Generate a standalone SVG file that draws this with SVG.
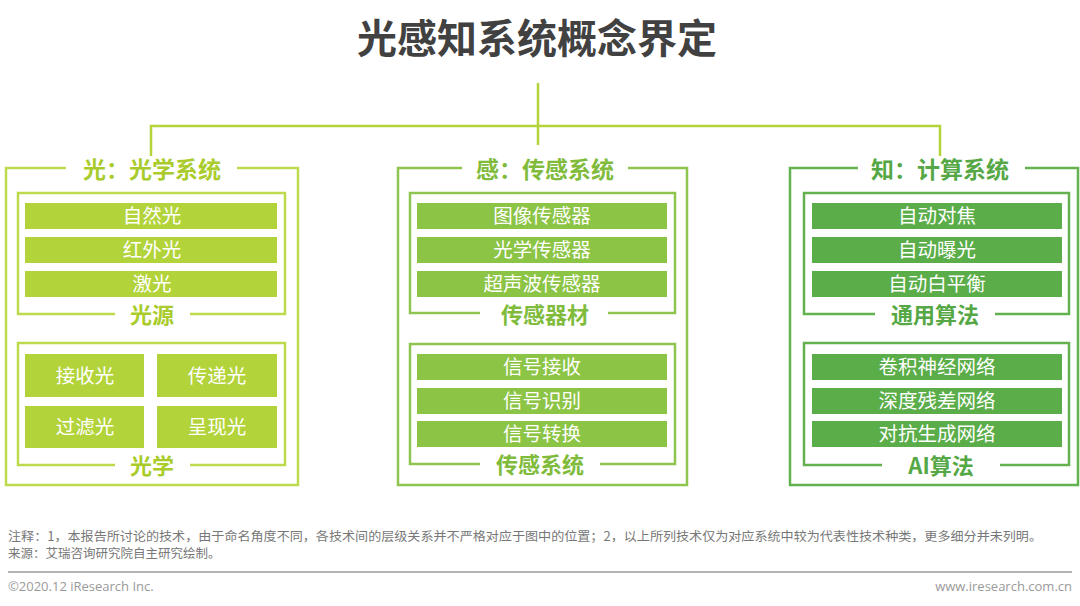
<svg xmlns="http://www.w3.org/2000/svg" width="1080" height="606" viewBox="0 0 1080 606">
<style>
text{font-family:"Noto Sans CJK SC","Noto Sans",sans-serif;text-anchor:middle}
.title{font-size:40px;font-weight:700;fill:#414141}
.hd{font-size:23px;font-weight:700}
.sub{font-size:22px;font-weight:700}
.bt{font-size:19.5px;fill:#ffffff}
.fr{fill:none;stroke-width:2.5}
.c1 .fr{stroke:#bcda4c}.c1 .bar{fill:#b2d33a}.c1 .hd,.c1 .sub{fill:#a9cc2c}
.c2 .fr{stroke:#8ec54e}.c2 .bar{fill:#8cc445}.c2 .hd,.c2 .sub{fill:#80bb3c}
.c3 .fr{stroke:#63b14f}.c3 .bar{fill:#5aad48}.c3 .hd,.c3 .sub{fill:#55a845}
.conn{fill:none;stroke:#b5d43a;stroke-width:2.5}
.note{font-size:12.5px;fill:#777;text-anchor:start}
.foot{font-family:"Open Sans","Liberation Sans",sans-serif;font-size:13px;fill:#9a9a9a}
</style>
<rect width="1080" height="606" fill="#ffffff"/>
<text class="title" x="537" y="53">光感知系统概念界定</text>
<g id="connectors">
<path class="conn" d="M538,83 V145"/>
<path class="conn" d="M151,156 V126 H940 V156"/>
</g>
<g id="col-light" class="c1">
<path class="fr" d="M66,168 H6 V485 H298 V168 H237"/>
<text class="hd" x="152" y="178">光：光学系统</text>
<g id="light-source">
<path class="fr" d="M115,314 H18 V193 H285 V314 H190"/>
<rect class="bar" x="25" y="203" width="252" height="26"/><text class="bt" x="152" y="223">自然光</text>
<rect class="bar" x="25" y="237" width="252" height="26"/><text class="bt" x="152" y="257">红外光</text>
<rect class="bar" x="25" y="271" width="252" height="26"/><text class="bt" x="152" y="291">激光</text>
<text class="sub" x="152" y="323">光源</text>
</g>
<g id="optics">
<path class="fr" d="M115,465 H18 V343 H285 V465 H190"/>
<rect class="bar" x="25" y="354" width="119" height="43"/><text class="bt" x="85" y="383">接收光</text>
<rect class="bar" x="157" y="354" width="120" height="43"/><text class="bt" x="217" y="383">传递光</text>
<rect class="bar" x="25" y="406" width="119" height="42"/><text class="bt" x="85" y="434">过滤光</text>
<rect class="bar" x="157" y="406" width="120" height="42"/><text class="bt" x="217" y="434">呈现光</text>
<text class="sub" x="152" y="474">光学</text>
</g>
</g>
<g id="col-sense" class="c2">
<path class="fr" d="M462,168 H398 V485 H687 V168 H628"/>
<text class="hd" x="545" y="178">感：传感系统</text>
<g id="sensors">
<path class="fr" d="M480,313 H410 V193 H675 V313 H608"/>
<rect class="bar" x="417" y="203" width="250" height="26"/><text class="bt" x="542" y="223">图像传感器</text>
<rect class="bar" x="417" y="237" width="250" height="26"/><text class="bt" x="542" y="257">光学传感器</text>
<rect class="bar" x="417" y="271" width="250" height="26"/><text class="bt" x="542" y="291">超声波传感器</text>
<text class="sub" x="545" y="323">传感器材</text>
</g>
<g id="sense-system">
<path class="fr" d="M480,464 H410 V344 H675 V464 H600"/>
<rect class="bar" x="417" y="354" width="250" height="26"/><text class="bt" x="542" y="374">信号接收</text>
<rect class="bar" x="417" y="388" width="250" height="26"/><text class="bt" x="542" y="408">信号识别</text>
<rect class="bar" x="417" y="421" width="250" height="26"/><text class="bt" x="542" y="441">信号转换</text>
<text class="sub" x="540" y="473">传感系统</text>
</g>
</g>
<g id="col-compute" class="c3">
<path class="fr" d="M858,168 H790 V485 H1078 V168 H1025"/>
<text class="hd" x="940" y="178">知：计算系统</text>
<g id="general-algo">
<path class="fr" d="M875,314 H804 V193 H1069 V314 H995"/>
<rect class="bar" x="812" y="203" width="250" height="26"/><text class="bt" x="937" y="223">自动对焦</text>
<rect class="bar" x="812" y="237" width="250" height="26"/><text class="bt" x="937" y="257">自动曝光</text>
<rect class="bar" x="812" y="271" width="250" height="26"/><text class="bt" x="937" y="291">自动白平衡</text>
<text class="sub" x="935" y="323">通用算法</text>
</g>
<g id="ai-algo">
<path class="fr" d="M882,465 H804 V343 H1069 V465 H1000"/>
<rect class="bar" x="812" y="354" width="250" height="26"/><text class="bt" x="937" y="374">卷积神经网络</text>
<rect class="bar" x="812" y="388" width="250" height="26"/><text class="bt" x="937" y="408">深度残差网络</text>
<rect class="bar" x="812" y="421" width="250" height="26"/><text class="bt" x="937" y="441">对抗生成网络</text>
<text class="sub" x="941" y="474">AI算法</text>
</g>
</g>
<g id="footer">
<text class="note" x="8" y="541" textLength="1034" lengthAdjust="spacingAndGlyphs">注释：1，本报告所讨论的技术，由于命名角度不同，各技术间的层级关系并不严格对应于图中的位置；2，以上所列技术仅为对应系统中较为代表性技术种类，更多细分并未列明。</text>
<text class="note" x="8" y="558">来源：艾瑞咨询研究院自主研究绘制。</text>
<line x1="8" y1="572" x2="1072" y2="572" stroke="#9a9a9a" stroke-width="1.5"/>
<text class="foot" x="8" y="591" style="text-anchor:start">©2020.12 iResearch Inc.</text>
<text class="foot" x="1072" y="591" style="text-anchor:end">www.iresearch.com.cn</text>
</g>
</svg>
